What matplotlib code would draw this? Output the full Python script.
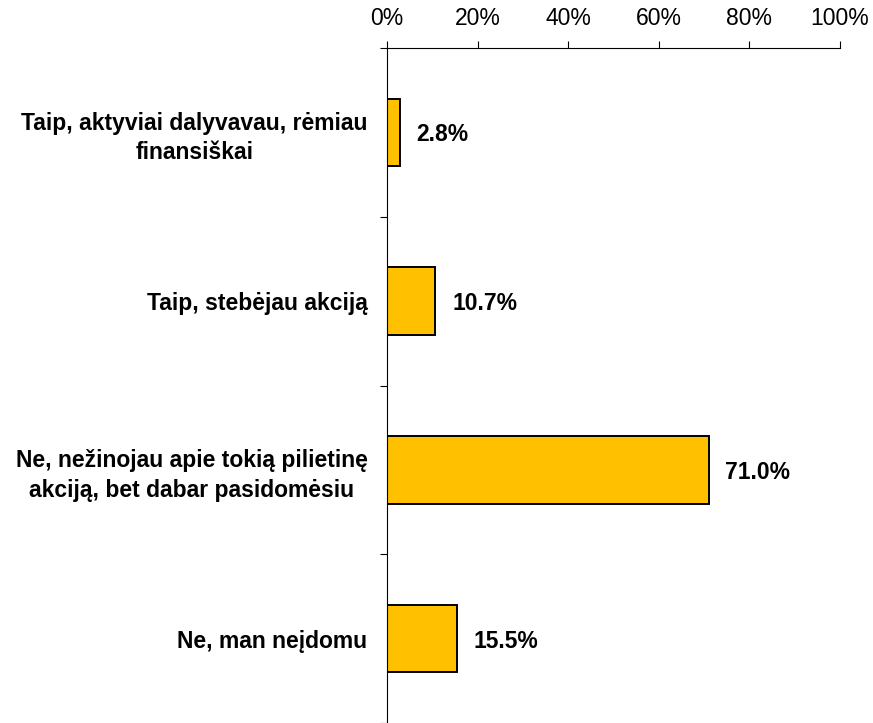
import matplotlib
matplotlib.use("Agg")
import matplotlib.pyplot as plt
import numpy as np

plt.rcParams['font.family'] = ['Liberation Sans', 'DejaVu Sans']

# data
categories = [
    "Taip, aktyviai dalyvavau, rėmiau\nfinansiškai",
    "Taip, stebėjau akciją",
    "Ne, nežinojau apie tokią pilietinę\nakciją, bet dabar pasidomėsiu",
    "Ne, man neįdomu",
]
values = [2.8, 10.7, 71.0, 15.5]
xticks = [0, 20, 40, 60, 80, 100]

BAR_COLOR = "#FFC000"

fig = plt.figure(figsize=(8.73, 7.23), dpi=100)
ax = fig.add_axes([387 / 873, 0.0, (840 - 387) / 873, 1 - 48 / 723])

y = np.arange(len(categories))
ax.barh(y, values, height=0.4, color=BAR_COLOR, edgecolor="black", linewidth=1.4)

# value labels
for yi, v in zip(y, values):
    ax.annotate(f"{v:.1f}%", xy=(v, yi), xytext=(12, 0), textcoords="offset points",
                va="center_baseline", ha="left", fontsize=16.5, fontweight="bold")

ax.set_xlim(0, 100)
ax.set_ylim(len(categories) - 0.5, -0.5)

ax.xaxis.tick_top()
ax.set_xticks(xticks)
ax.set_xticklabels([f"{t}%" for t in xticks], fontsize=16.5)
ax.tick_params(axis="x", direction="out", length=5, width=0.8, pad=8)

# category labels at centres, tick marks at the boundaries
ax.set_yticks(y)
ax.set_yticklabels(categories, fontsize=16.5, fontweight="bold",
                   multialignment="center", linespacing=1.35)
ax.tick_params(axis="y", which="major", length=0, pad=14)
ax.set_yticks(np.arange(len(categories) + 1) - 0.5, minor=True)
ax.tick_params(axis="y", which="minor", direction="out", length=5, width=0.8)

for s in ["right", "bottom"]:
    ax.spines[s].set_visible(False)
ax.spines["left"].set_linewidth(0.8)
ax.spines["top"].set_linewidth(0.8)

fig.savefig("out.png", dpi=100)
